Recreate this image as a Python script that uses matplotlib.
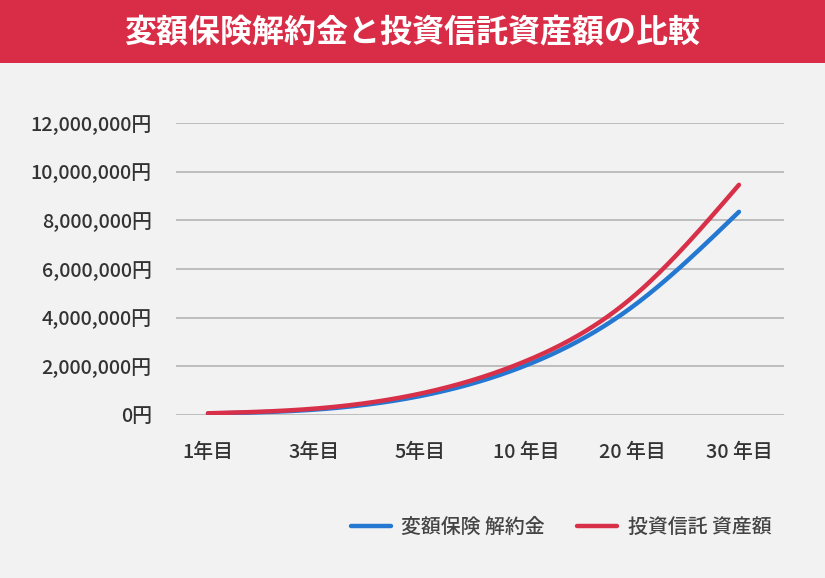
import numpy as np
import matplotlib
matplotlib.use("Agg")
import matplotlib.pyplot as plt
from matplotlib.patches import Rectangle
from matplotlib.ticker import FuncFormatter
from matplotlib.lines import Line2D

plt.rcParams['font.family'] = ['Noto Sans CJK JP', 'DejaVu Sans']

title = "変額保険解約金と投資信託資産額の比較"
categories = ["1年目", "3年目", "5年目", "10 年目", "20 年目", "30 年目"]
series_names = ["変額保険 解約金", "投資信託 資産額"]
insurance = [60000, 220000, 780000, 2050000, 4460000, 8350000]
trust = [70000, 260000, 880000, 2230000, 4850000, 9460000]
y_ticks = [0, 2000000, 4000000, 6000000, 8000000, 10000000, 12000000]

BG = "#f2f2f2"
RED = "#d92d47"
BLUE = "#2478d2"
LINE_RED = "#d9304a"
TXT = "#333333"


def natural_spline(x, y, n=300):
    x = np.asarray(x, float)
    y = np.asarray(y, float)
    k = len(x)
    h = np.diff(x)
    A = np.zeros((k, k))
    b = np.zeros(k)
    A[0, 0] = 1
    A[-1, -1] = 1
    for i in range(1, k - 1):
        A[i, i - 1] = h[i - 1]
        A[i, i] = 2 * (h[i - 1] + h[i])
        A[i, i + 1] = h[i]
        b[i] = 6 * ((y[i + 1] - y[i]) / h[i] - (y[i] - y[i - 1]) / h[i - 1])
    M = np.linalg.solve(A, b)
    xs = np.linspace(x[0], x[-1], n)
    ys = np.empty_like(xs)
    for j, xv in enumerate(xs):
        i = min(np.searchsorted(x, xv, side='right') - 1, k - 2)
        a = x[i + 1] - xv
        c = xv - x[i]
        ys[j] = (M[i] * a**3 / (6 * h[i]) + M[i + 1] * c**3 / (6 * h[i])
                 + (y[i] / h[i] - M[i] * h[i] / 6) * a
                 + (y[i + 1] / h[i] - M[i + 1] * h[i] / 6) * c)
    return xs, ys


fig = plt.figure(figsize=(8.25, 5.78), dpi=100)
fig.patch.set_facecolor(BG)

# Title bar
fig.patches.append(Rectangle((0, 1 - 63 / 578), 1, 63 / 578, transform=fig.transFigure,
                             facecolor=RED, edgecolor='none', zorder=0))
fig.text(0.5, 1 - 32 / 578, title, color='white', fontsize=23, fontweight='bold',
         ha='center', va='center')

ax = fig.add_axes([176 / 825, 1 - 415 / 578, 608 / 825, 292 / 578])
ax.set_facecolor(BG)
for s in ax.spines.values():
    s.set_visible(False)

xi = np.arange(len(categories))
for vals, col, name in [(insurance, BLUE, series_names[0]), (trust, LINE_RED, series_names[1])]:
    xs, ys = natural_spline(xi, vals)
    ax.plot(xs, ys, color=col, lw=3.2, solid_capstyle='round', label=name, zorder=3)

ax.set_ylim(0, 12000000)
ax.set_xlim(-0.301, 5.424)
ax.set_yticks(y_ticks)
ax.yaxis.set_major_formatter(FuncFormatter(lambda v, p: f"{int(v):,}円"))
ax.set_xticks(xi)
ax.set_xticklabels(categories)
ax.grid(axis='y', color='#b4b4b4', lw=1.2, zorder=1)
ax.tick_params(axis='both', length=0, labelsize=14.3, labelcolor=TXT)
ax.tick_params(axis='y', pad=17.5)
ax.tick_params(axis='x', pad=20)
for lab in ax.get_xticklabels() + ax.get_yticklabels():
    lab.set_fontweight('medium')

handles = [Line2D([0], [0], color=BLUE, lw=3.2, solid_capstyle='round'),
           Line2D([0], [0], color=LINE_RED, lw=3.2, solid_capstyle='round')]
leg = fig.legend(handles, series_names, loc='center', bbox_to_anchor=(561 / 825, 1 - 527 / 578),
                 ncol=2, frameon=False, fontsize=14.3, handlelength=2.0, handletextpad=0.55,
                 columnspacing=1.6)
for t in leg.get_texts():
    t.set_color('#444444')
    t.set_fontweight('medium')

fig.savefig("out.png", dpi=100, facecolor=BG)
